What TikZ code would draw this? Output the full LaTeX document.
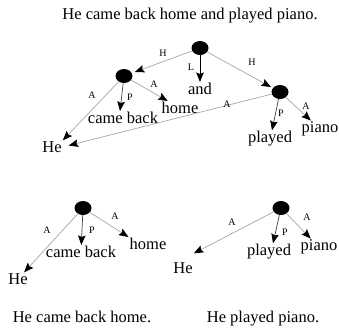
\documentclass[tikz,border=0pt]{standalone}
\usepackage{fontspec}
\setmainfont{Liberation Serif}
\usetikzlibrary{arrows.meta,shapes.geometric}
\begin{document}
\begin{tikzpicture}[x=1pt,y=-1pt,
  dot/.style={ellipse,fill=black,minimum width=17pt,minimum height=14pt,inner sep=0pt},
  word/.style={font=\fontsize{16.5}{18}\selectfont,inner sep=1pt},
  lab/.style={font=\fontsize{10}{12}\selectfont,inner sep=0pt},
  arr/.style={draw=gray!70,line width=0.7pt,-{Stealth[length=9.5pt,width=7.5pt,inset=1.5pt,black]}},
  arrd/.style={arr,draw=black!75},
  arrk/.style={arr,draw=black}]
\useasboundingbox (0,0) rectangle (339,327);
% ---- top graph ----
\node[word,anchor=base] (title) at (190,19) {He came back home and played piano.};
\node[dot] (r) at (200,48) {};
\node[dot] (n1) at (124,76) {};
\node[dot] (n2) at (280,92) {};
\node[word] (he1) at (52,147) {He};
\node[word] (cb1) at (123,118) {came back};
\node[word] (home1) at (180,108) {home};
\node[word] (and) at (200,89) {and};
\node[word] (played1) at (270,139) {played};
\node[word] (piano1) at (320,129) {piano};
\draw[arr,shorten >=3pt] (r) -- (n1);
\draw[arr,shorten >=2pt] (r) -- (n2);
\draw[arrk] (r) -- (and);
\draw[arr] (n1) -- (he1.north east);
\draw[arrd] (n1) -- ([xshift=-3pt]cb1.north);
\draw[arr] (n1) -- (home1);
\draw[arr,shorten >=6pt] (n2) -- (he1.east);
\draw[arrd] (n2) -- ([xshift=2pt]played1.north);
\draw[arr] (n2) -- (piano1);
\node[lab] (lh1) at (163,53) {H};
\node[lab] (ll) at (191,67) {L};
\node[lab] (lh2) at (252,62) {H};
\node[lab] (la1) at (92,95) {A};
\node[lab] (lp1) at (130,97) {P};
\node[lab] (la2) at (154,84) {A};
\node[lab] (la3) at (227,104) {A};
\node[lab] (lp2) at (281,113) {P};
\node[lab] (la4) at (306,106) {A};
% ---- bottom left ----
\node[dot] (n3) at (83,208) {};
\node[word] (he2) at (18,279) {He};
\node[word] (cb2) at (81,252) {came back};
\node[word] (home2) at (148,244) {home};
\draw[arr] (n3) -- (he2);
\draw[arrd] (n3) -- (cb2);
\draw[arr] (n3) -- (home2.north west);
\node[lab] (la5) at (47,230) {A};
\node[lab] (lp3) at (92,230) {P};
\node[lab] (la6) at (115,216) {A};
% ---- bottom right ----
\node[dot] (n4) at (281,208) {};
\node[word] (he3) at (183,268) {He};
\node[word] (played2) at (269,252) {played};
\node[word] (piano2) at (319,247) {piano};
\draw[arr] (n4) -- ([yshift=8pt]he3.north east);
\draw[arrd] (n4) -- ([xshift=4pt]played2.north);
\draw[arr] (n4) -- (piano2);
\node[lab] (la7) at (232,222) {A};
\node[lab] (lp4) at (285,232) {P};
\node[lab] (la8) at (307,217) {A};
% ---- captions ----
\node[word,anchor=base] (cap1) at (82,322) {He came back home.};
\node[word,anchor=base] (cap2) at (263,322) {He played piano.};
\end{tikzpicture}
\end{document}
